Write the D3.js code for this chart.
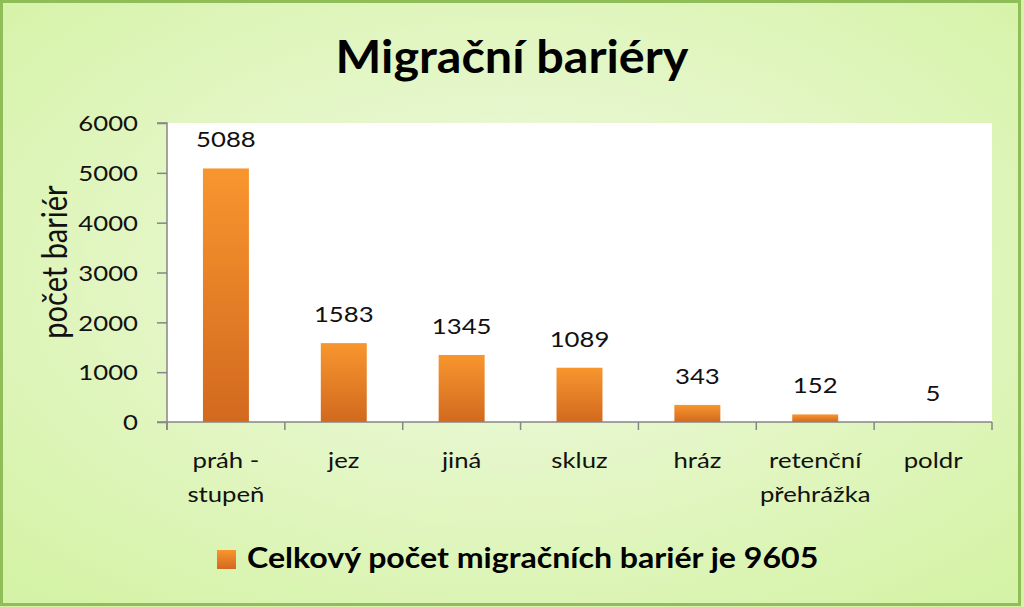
<!DOCTYPE html>
<html>
<head>
<meta charset="utf-8">
<script src="https://cdn.jsdelivr.net/npm/d3@7.9.0/dist/d3.min.js"></script>
<style>
  body { margin: 0; background: #fff; }
  svg { display: block; font-family: Lato, "Open Sans", sans-serif; }
</style>
</head>
<body>
<svg id="chart" width="1024" height="607"></svg>
<script>
const categories = [['práh -', 'stupeň'], ['jez'], ['jiná'], ['skluz'], ['hráz'], ['retenční', 'přehrážka'], ['poldr']];
const values = [5088, 1583, 1345, 1089, 343, 152, 5];
const yTicks = [0, 1000, 2000, 3000, 4000, 5000, 6000];
const title = 'Migrační bariéry';
const yTitle = 'počet bariér';
const legendLabel = 'Celkový počet migračních bariér je 9605';

const width = 1024, height = 607;
const SX = 1.17; // the picture is a bit wider than the fonts
const plot = { left: 167, right: 992, top: 123, bottom: 422 };

const svg = d3.select('#chart');
const defs = svg.append('defs');

const bg = defs.append('radialGradient').attr('id', 'bg')
  .attr('cx', '50%').attr('cy', '45%').attr('r', '70%');
bg.append('stop').attr('offset', '0%').attr('stop-color', '#f1f9e4');
bg.append('stop').attr('offset', '100%').attr('stop-color', '#d5f3a6');

const barGrad = defs.append('linearGradient').attr('id', 'bar')
  .attr('x1', 0).attr('y1', 0).attr('x2', 0).attr('y2', 1);
barGrad.append('stop').attr('offset', '0%').attr('stop-color', '#f8962e');
barGrad.append('stop').attr('offset', '100%').attr('stop-color', '#d2691f');

// background + frame
svg.append('rect').attr('width', width).attr('height', height).attr('fill', 'url(#bg)');
svg.append('rect')
  .attr('x', 1.5).attr('y', 1.5).attr('width', width - 6).attr('height', height - 4)
  .attr('fill', 'none').attr('stroke', '#8fbd58').attr('stroke-width', 3);

// plot area
svg.append('rect')
  .attr('x', plot.left).attr('y', plot.top)
  .attr('width', plot.right - plot.left).attr('height', plot.bottom - plot.top)
  .attr('fill', '#ffffff');

const x = d3.scaleBand()
  .domain(categories.map(d => d.join(' ')))
  .range([plot.left, plot.right])
  .padding(0);

const y = d3.scaleLinear()
  .domain([0, 6000])
  .range([plot.bottom, plot.top]);

function stretched(g, px, py, sx = SX) {
  return g.append('text').attr('transform', `translate(${px},${py}) scale(${sx},1)`);
}

// bars
const barW = x.bandwidth() * 0.39;
svg.append('g').selectAll('rect')
  .data(values)
  .join('rect')
  .attr('x', (d, i) => x(categories[i].join(' ')) + (x.bandwidth() - barW) / 2)
  .attr('y', d => y(d))
  .attr('width', barW)
  .attr('height', d => plot.bottom - y(d))
  .attr('fill', 'url(#bar)');

// value labels
const labels = svg.append('g').attr('font-size', 22).attr('fill', '#111').attr('text-anchor', 'middle');
values.forEach((v, i) => {
  stretched(labels, x(categories[i].join(' ')) + x.bandwidth() / 2, y(v) - 21).text(v);
});

// y axis
const yAxis = svg.append('g')
  .attr('transform', `translate(${plot.left},0)`)
  .call(d3.axisLeft(y).tickValues(yTicks).tickFormat(d3.format('d')).tickSize(10).tickPadding(0));
yAxis.select('.domain').attr('stroke', '#868686').attr('stroke-width', 1.5)
  .attr('d', `M-10,${plot.top}H0V${plot.bottom + 8}`);
yAxis.selectAll('.tick line').attr('stroke', '#868686').attr('stroke-width', 1.5);
yAxis.selectAll('.tick text')
  .attr('font-size', 22).attr('font-family', 'Lato, sans-serif').attr('fill', '#111')
  .attr('x', 0).attr('dy', '0.35em')
  .attr('transform', `translate(-29,0) scale(${SX},1)`);

// x axis
const xAxis = svg.append('g').attr('stroke', '#868686').attr('stroke-width', 1.5);
xAxis.append('line')
  .attr('x1', plot.left - 10).attr('x2', plot.right)
  .attr('y1', plot.bottom).attr('y2', plot.bottom);
xAxis.selectAll('line.tick')
  .data(x.domain().concat(['end']))
  .join('line')
  .attr('class', 'tick')
  .attr('x1', (d, i) => i < categories.length ? x(d) : plot.right)
  .attr('x2', (d, i) => i < categories.length ? x(d) : plot.right)
  .attr('y1', plot.bottom).attr('y2', plot.bottom + 8);

// category labels
const cats = svg.append('g').attr('font-size', 22).attr('fill', '#111').attr('text-anchor', 'middle');
categories.forEach((lines, i) => {
  lines.forEach((line, j) => {
    stretched(cats, x(lines.join(' ')) + x.bandwidth() / 2, 468 + j * 34).text(line);
  });
});

// y title
svg.append('text')
  .attr('transform', `translate(67,262) rotate(-90) scale(1,${SX})`)
  .attr('text-anchor', 'middle')
  .attr('font-size', 29).attr('fill', '#111')
  .text(yTitle);

// title
stretched(svg, 512, 73, 1.055)
  .attr('text-anchor', 'middle')
  .attr('font-size', 46).attr('font-weight', 'bold').attr('fill', '#000')
  .text(title);

// legend
svg.append('rect')
  .attr('x', 217).attr('y', 550).attr('width', 19).attr('height', 19)
  .attr('fill', 'url(#bar)');
stretched(svg, 247, 568, 1.147)
  .attr('font-size', 28).attr('font-weight', 'bold').attr('fill', '#000')
  .text(legendLabel);
</script>
</body>
</html>
